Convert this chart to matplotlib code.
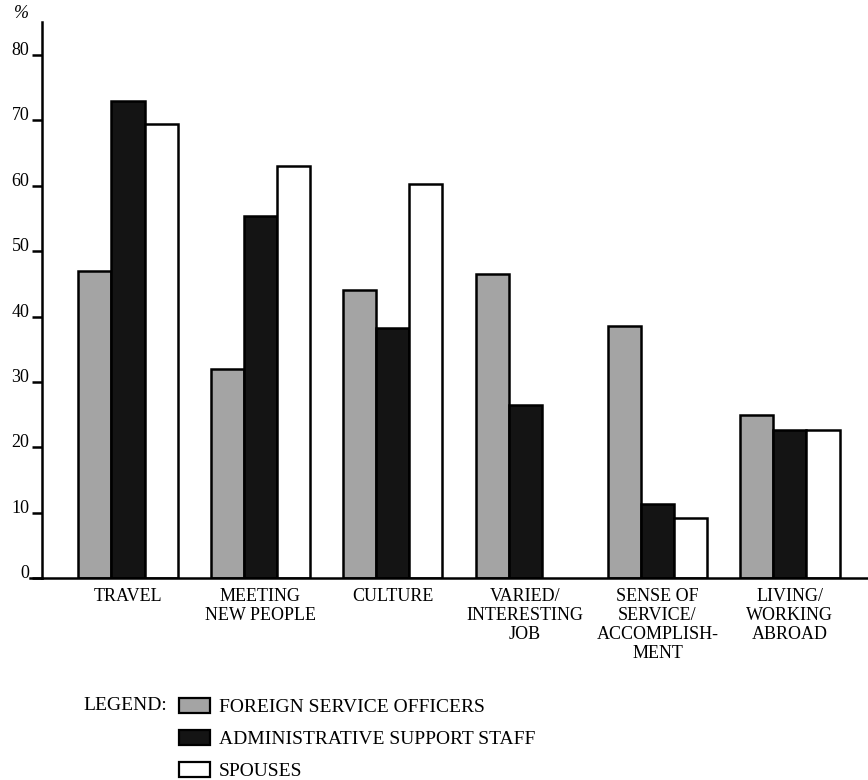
import numpy as np
import matplotlib
matplotlib.use("Agg")
import matplotlib.pyplot as plt
from matplotlib.patches import Patch

categories = ["TRAVEL", "MEETING\nNEW PEOPLE", "CULTURE", "VARIED/\nINTERESTING\nJOB",
              "SENSE OF\nSERVICE/\nACCOMPLISH-\nMENT", "LIVING/\nWORKING\nABROAD"]
series_names = ["FOREIGN SERVICE OFFICERS", "ADMINISTRATIVE SUPPORT STAFF", "SPOUSES"]
fso = [47, 32, 44, 46.5, 38.5, 25]
admin = [73, 55.3, 38.2, 26.5, 11.3, 22.6]
spouses = [69.4, 63, 60.2, 0, 9.2, 22.6]
yticks = [0, 10, 20, 30, 40, 50, 60, 70, 80]

plt.rcParams["font.family"] = ["Liberation Serif", "DejaVu Serif"]

fig = plt.figure(figsize=(8.68, 7.8), dpi=100)
ax = fig.add_axes([42 / 868, 1 - 578 / 780, 1 - 42 / 868, 556 / 780])

x = np.arange(len(categories))
w = 0.25
colors = ["#a4a4a4", "#141414", "white"]
for k, vals in enumerate([fso, admin, spouses]):
    vals = np.array(vals)
    xs = x + (k - 1) * w
    keep = vals > 0
    ax.bar(xs[keep], vals[keep], width=w, color=colors[k], edgecolor="black",
           linewidth=1.8, label=series_names[k])

ax.set_xlim(-0.65, 5.59)
ax.set_ylim(0, 85.05)
for s in ["top", "right"]:
    ax.spines[s].set_visible(False)
ax.spines["left"].set_linewidth(1.8)
ax.spines["bottom"].set_linewidth(1.8)
ax.plot([-0.74, -0.65], [0, 0], color="black", lw=1.8, clip_on=False)

ax.set_yticks(yticks)
ax.set_yticklabels([str(t) for t in yticks], fontsize=13, va="baseline")
ax.tick_params(axis="y", length=7, width=1.8, pad=2)
ax.set_xticks(x)
ax.set_xticklabels(categories, fontsize=13, linespacing=1.15, va="top")
ax.tick_params(axis="x", length=0, pad=7)
fig.text(14 / 868, 1 - 14 / 780, "%", fontsize=13, style="italic", va="center")

# legend
fig.text(83 / 868, 1 - 705 / 780, "LEGEND:", fontsize=14, va="center")
handles = [Patch(facecolor=c, edgecolor="black", linewidth=1.6) for c in colors]
fig.legend(handles, series_names, loc="upper left",
           bbox_to_anchor=(169 / 868, 1 - 688 / 780), frameon=False,
           fontsize=14, handlelength=1.6, handleheight=0.8,
           labelspacing=0.72, handletextpad=0.45, borderpad=0)

fig.savefig("out.png", dpi=100)
